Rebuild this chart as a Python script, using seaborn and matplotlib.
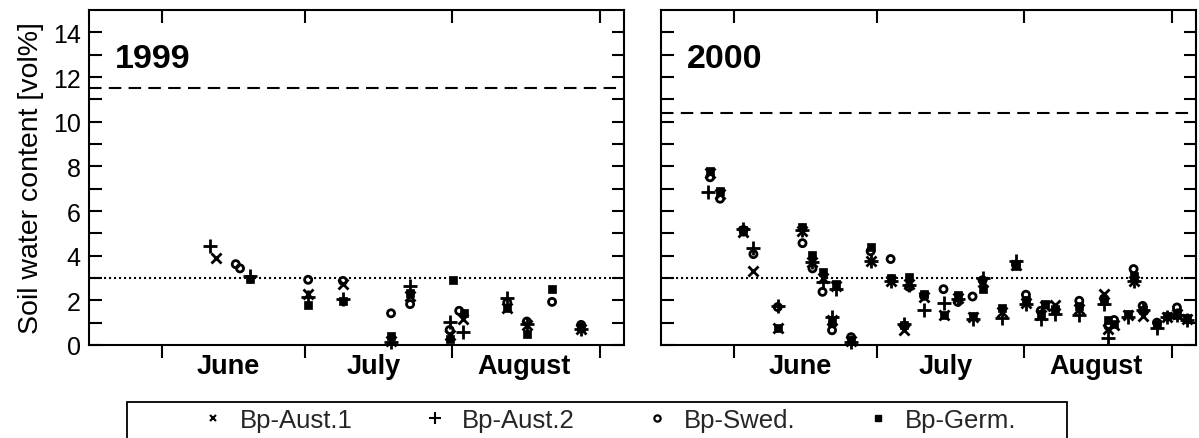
import matplotlib
matplotlib.use("Agg")
import matplotlib.pyplot as plt
from matplotlib.lines import Line2D
from matplotlib.patches import Rectangle
import seaborn as sns
import pandas as pd

# ---------------- data (day of year, soil water content vol%) ----------------
years = ["1999", "2000"]
series = ["Bp-Aust.1", "Bp-Aust.2", "Bp-Swed.", "Bp-Germ."]
month_names = ["June", "July", "August"]
month_starts = [152, 182, 213, 244]
month_label_pos = [166, 196.5, 228]
field_capacity = [11.5, 10.4]
threshold = 3.0

aust1_1999_day = [163.4, 182.7, 190.0, 200.1, 204.1, 212.4, 215.3, 224.5, 228.6, 240.0]
aust1_1999_val = [3.88, 2.30, 2.75, 0.20, 2.20, 0.45, 1.15, 1.65, 0.88, 0.72]
aust2_1999_day = [162.2, 170.5, 182.7, 190.0, 200.1, 204.1, 212.4, 215.3, 224.5, 228.6, 240.0]
aust2_1999_val = [4.42, 3.08, 2.13, 2.08, 0.12, 2.62, 1.03, 0.60, 2.12, 0.92, 0.72]
swed_1999_day = [167.5, 168.4, 182.7, 190.0, 200.1, 204.1, 212.4, 214.4, 224.5, 228.6, 233.9, 240.0]
swed_1999_val = [3.62, 3.43, 2.92, 2.87, 1.42, 1.83, 0.67, 1.53, 1.90, 1.05, 1.93, 0.90]
germ_1999_day = [170.5, 182.7, 190.0, 200.1, 204.1, 212.4, 213.2, 215.5, 224.5, 228.6, 233.9, 240.0]
germ_1999_val = [2.95, 1.80, 1.95, 0.40, 2.35, 0.25, 2.92, 1.45, 1.65, 0.48, 2.50, 0.80]

aust1_2000_day = [147.0, 149.1, 154.0, 156.1, 161.2, 166.4, 168.5, 170.6, 172.6, 173.4, 176.6, 180.7,
                  185.0, 187.8, 188.8, 191.9, 196.0, 199.0, 202.1, 204.2, 208.2, 211.2, 213.3, 216.4,
                  217.3, 219.4, 224.5, 229.7, 230.6, 231.8, 234.8, 235.9, 237.8, 242.9, 245.0, 247.1]
aust1_2000_val = [7.70, 6.75, 5.05, 3.32, 0.75, 5.10, 3.73, 3.00, 1.10, 2.65, 0.20, 3.77,
                  2.85, 0.65, 2.75, 2.15, 1.35, 2.10, 1.25, 2.80, 1.50, 3.60, 1.90, 1.35,
                  1.75, 1.80, 1.60, 2.28, 0.70, 0.90, 1.35, 2.87, 1.30, 1.25, 1.40, 1.15]
aust2_2000_day = [146.6, 154.0, 156.1, 161.2, 166.4, 168.5, 170.6, 172.6, 173.4, 176.6, 180.7, 185.0,
                  187.8, 188.8, 191.9, 196.0, 199.0, 202.1, 204.2, 208.2, 211.2, 213.3, 216.4, 219.4,
                  224.5, 229.7, 230.6, 234.8, 235.9, 237.8, 240.8, 242.9, 245.0, 247.1]
aust2_2000_val = [6.87, 5.20, 4.33, 1.75, 5.15, 3.73, 2.80, 1.25, 2.50, 0.12, 3.77, 2.85,
                  0.95, 2.70, 1.57, 1.90, 2.05, 1.15, 3.00, 1.23, 3.75, 1.85, 1.15, 1.40,
                  1.33, 1.83, 0.33, 1.25, 2.87, 1.55, 0.78, 1.25, 1.35, 1.10]
swed_2000_day = [147.0, 149.1, 154.0, 156.1, 161.2, 166.4, 168.5, 170.6, 172.6, 176.6, 180.7, 184.9,
                 187.8, 188.8, 191.9, 196.0, 199.0, 202.1, 204.2, 211.2, 213.3, 216.4, 224.5, 229.7,
                 230.6, 231.8, 235.9, 237.8, 240.8, 245.0]
swed_2000_val = [7.51, 6.55, 5.15, 4.07, 1.70, 4.56, 3.43, 2.38, 0.66, 0.35, 4.20, 3.85,
                 0.85, 2.60, 2.20, 2.50, 1.93, 2.17, 2.90, 3.60, 2.25, 1.53, 1.98, 2.08,
                 0.85, 1.12, 3.40, 1.75, 1.00, 1.68]
germ_2000_day = [147.0, 149.1, 154.0, 161.2, 166.4, 168.5, 170.6, 172.6, 173.4, 176.6, 180.7, 185.0,
                 187.8, 188.8, 191.9, 196.0, 199.0, 202.1, 204.2, 208.2, 211.2, 213.3, 216.4, 217.3,
                 219.4, 224.5, 229.7, 230.6, 231.8, 234.8, 235.9, 237.8, 240.8, 242.9, 245.0, 247.1]
germ_2000_val = [7.77, 6.90, 5.15, 0.78, 5.30, 4.05, 3.28, 1.05, 2.75, 0.22, 4.40, 3.00,
                 0.90, 3.05, 2.30, 1.33, 2.25, 1.30, 2.50, 1.65, 3.55, 2.00, 1.40, 1.83,
                 1.60, 1.75, 1.95, 1.10, 0.95, 1.40, 3.10, 1.55, 0.95, 1.30, 1.35, 1.20]

data = {
    "1999": [(aust1_1999_day, aust1_1999_val), (aust2_1999_day, aust2_1999_val),
             (swed_1999_day, swed_1999_val), (germ_1999_day, germ_1999_val)],
    "2000": [(aust1_2000_day, aust1_2000_val), (aust2_2000_day, aust2_2000_val),
             (swed_2000_day, swed_2000_val), (germ_2000_day, germ_2000_val)],
}

# ---------------- style ----------------
sns.set_theme(style="ticks")
plt.rcParams["font.family"] = ["Liberation Sans", "DejaVu Sans"]
plt.rcParams["axes.linewidth"] = 1.5

marker_kw = [
    dict(marker="x", s=52, color="black", linewidth=2.0),
    dict(marker="+", s=100, color="black", linewidth=2.0),
    dict(marker="o", s=26, facecolor="none", edgecolor="black", linewidth=2.0),
    dict(marker="s", s=34, color="black", edgecolor="black", linewidth=0.5),
]

W, H = 1199, 439
fig = plt.figure(figsize=(W / 100, H / 100), dpi=100)
axes = [fig.add_axes([89 / W, 93 / H, 535 / W, 335 / H]),
        fig.add_axes([661 / W, 93 / H, 535 / W, 335 / H])]

for i, (ax, yr) in enumerate(zip(axes, years)):
    for (d, v), kw in zip(data[yr], marker_kw):
        df = pd.DataFrame({"day": d, "val": v})
        sns.scatterplot(data=df, x="day", y="val", ax=ax, legend=False,
                        clip_on=False, zorder=3, **kw)
    ax.axhline(field_capacity[i], color="black", lw=1.5, ls=(0, (6, 3.5)), zorder=2)
    ax.axhline(threshold, color="black", lw=1.5, ls=(0, (1, 1.4)), zorder=2)
    ax.set_xlim(136.7, 249.0)
    ax.set_ylim(0, 15)
    ax.set_xlabel("")
    ax.set_ylabel("")
    for sp in ax.spines.values():
        sp.set_visible(True)
        sp.set_linewidth(1.5)
        sp.set_color("black")
    # x: major ticks at month starts (bottom outward), labels mid-month
    ax.set_xticks(month_starts)
    ax.set_xticklabels([])
    ax.set_xticks(month_label_pos, minor=True)
    ax.set_xticklabels(month_names, minor=True, fontsize=19.5, fontweight="bold")
    ax.tick_params(axis="x", which="major", direction="out", length=9, width=1.5,
                   bottom=True, top=False, color="black")
    ax.tick_params(axis="x", which="minor", length=0, pad=6.0, labelcolor="black")
    sec = ax.secondary_xaxis("top")
    sec.set_xticks(month_starts)
    sec.tick_params(axis="x", direction="in", length=9, width=1.5, labeltop=False, color="black")
    sec.spines["top"].set_visible(False)
    # y ticks every 1, labels every 2
    ax.set_yticks(range(0, 15))
    ax.set_yticklabels([str(t) if t % 2 == 0 else "" for t in range(0, 15)])
    ax.tick_params(axis="y", which="major", direction="in", length=9, width=1.5,
                   left=True, right=True, labelsize=18, pad=6, color="black",
                   labelcolor="black")
    if i == 1:
        ax.tick_params(axis="y", labelleft=False)
    ax.text(0.048, 0.83, yr, transform=ax.transAxes, fontsize=24.5,
            fontweight="bold", va="baseline", ha="left", color="black")

axes[0].set_ylabel("Soil water content [vol%]", fontsize=20.5, color="black", labelpad=6)

# ---------------- legend ----------------
handles = [
    Line2D([], [], ls="none", marker="x", ms=5, mew=1.5, color="black"),
    Line2D([], [], ls="none", marker="+", ms=8.5, mew=1.5, color="black"),
    Line2D([], [], ls="none", marker="o", ms=4.5, mew=1.6, mfc="none", mec="black"),
    Line2D([], [], ls="none", marker="s", ms=5, color="black"),
]
fig.add_artist(Rectangle((127 / W, -0.02), 940 / W, (439 - 403) / H + 0.02,
                         transform=fig.transFigure, fill=False, edgecolor="black",
                         linewidth=1.3))
leg = fig.legend(handles, series, loc="center left", ncol=4,
                 bbox_to_anchor=(200 / W, 18 / H),
                 frameon=False, fontsize=18.5,
                 handlelength=1.0, handletextpad=0.55, columnspacing=2.7,
                 borderaxespad=0, borderpad=0)

fig.savefig("out.png", dpi=100, facecolor="white")
